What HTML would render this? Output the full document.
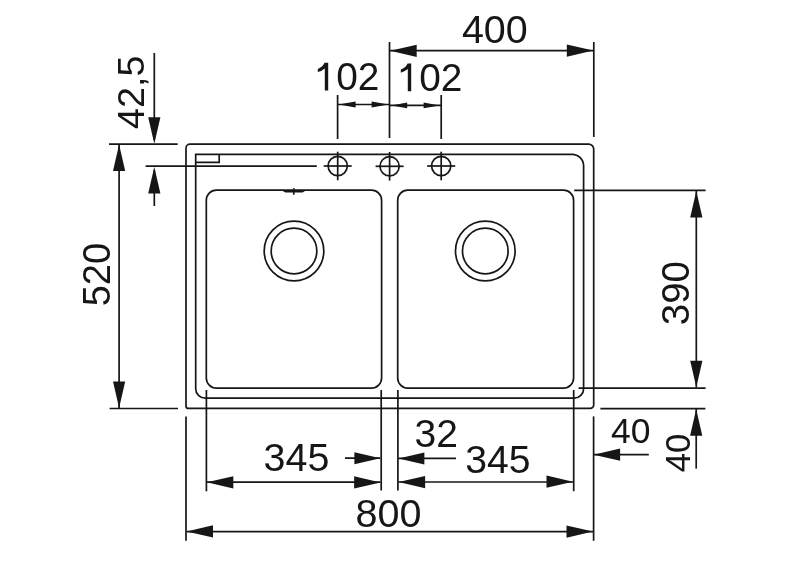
<!DOCTYPE html>
<html><head><meta charset="utf-8"><style>
html,body{margin:0;padding:0;background:#fff;}
svg{display:block;will-change:transform;}
text{font-family:"Liberation Sans",sans-serif;fill:#161616;}
</style></head><body>
<svg width="800" height="565" viewBox="0 0 800 565">
<rect width="800" height="565" fill="#fff"/>
<g fill="none" stroke="#161616" stroke-width="1.7" stroke-linecap="butt">
<path d="M190.0,144.1H588.7A5,5 0 0 1 593.7,149.1V404.9A3.5,3.5 0 0 1 590.2,408.4H188.5A2.5,2.5 0 0 1 186.0,405.9V148.1A4,4 0 0 1 190.0,144.1Z"/>
<path d="M195.7,154.3H572.1A11.5,11.5 0 0 1 583.6,165.8V388.7A9.5,9.5 0 0 1 574.1,398.2H205.2A9.5,9.5 0 0 1 195.7,388.7V154.3Z"/>
<path d="M195.7,162.3H219.2V154.3"/>
<path d="M216.3,190.2H371.6A10,10 0 0 1 381.6,200.2V378.1A10,10 0 0 1 371.6,388.1H216.3A10,10 0 0 1 206.3,378.1V200.2A10,10 0 0 1 216.3,190.2Z"/>
<path d="M407.7,190.2H563.6A10,10 0 0 1 573.6,200.2V378.1A10,10 0 0 1 563.6,388.1H407.7A10,10 0 0 1 397.7,378.1V200.2A10,10 0 0 1 407.7,190.2Z"/>
<circle cx="294.0" cy="251.0" r="29.8"/>
<circle cx="294.0" cy="251.0" r="22.8"/>
<circle cx="485.3" cy="251.0" r="29.8"/>
<circle cx="485.3" cy="251.0" r="22.8"/>
<circle cx="337.7" cy="166.0" r="9.6"/>
<line x1="323.70" y1="166.00" x2="351.70" y2="166.00"/>
<line x1="337.70" y1="151.70" x2="337.70" y2="180.30"/>
<circle cx="389.6" cy="166.3" r="9.6"/>
<line x1="375.60" y1="166.30" x2="403.60" y2="166.30"/>
<line x1="389.60" y1="152.00" x2="389.60" y2="180.60"/>
<circle cx="441.2" cy="166.0" r="9.6"/>
<line x1="427.20" y1="166.00" x2="455.20" y2="166.00"/>
<line x1="441.20" y1="151.70" x2="441.20" y2="180.30"/>
<path d="M281.8,190.6L285.5,192.6H302.5L305.8,190.6Z" fill="#161616" stroke="none"/>
<line x1="293.80" y1="188.20" x2="293.80" y2="194.70"/>
<line x1="389.50" y1="42.00" x2="389.50" y2="138.00"/>
<line x1="593.80" y1="42.00" x2="593.80" y2="137.00"/>
<line x1="390.00" y1="50.60" x2="593.00" y2="50.60"/>
<path d="M390.20,50.80L416.70,44.70L416.70,56.90Z" fill="#161616" stroke="none"/>
<path d="M593.30,50.60L566.80,56.70L566.80,44.50Z" fill="#161616" stroke="none"/>
<line x1="337.60" y1="95.00" x2="337.60" y2="139.00"/>
<line x1="441.20" y1="95.00" x2="441.20" y2="139.00"/>
<line x1="338.00" y1="104.50" x2="389.00" y2="104.50"/>
<path d="M338.60,104.50L355.60,101.60L355.60,107.40Z" fill="#161616" stroke="none"/>
<path d="M388.60,104.50L371.60,107.40L371.60,101.60Z" fill="#161616" stroke="none"/>
<line x1="390.00" y1="105.40" x2="441.00" y2="105.40"/>
<path d="M391.20,105.40L407.20,102.50L407.20,108.30Z" fill="#161616" stroke="none"/>
<path d="M439.60,105.40L423.60,108.30L423.60,102.50Z" fill="#161616" stroke="none"/>
<line x1="154.30" y1="53.00" x2="154.30" y2="140.00"/>
<line x1="154.30" y1="170.00" x2="154.30" y2="206.00"/>
<path d="M154.30,143.80L148.20,117.30L160.40,117.30Z" fill="#161616" stroke="none"/>
<path d="M154.30,167.00L160.40,193.50L148.20,193.50Z" fill="#161616" stroke="none"/>
<line x1="109.00" y1="144.20" x2="177.70" y2="144.20"/>
<line x1="145.60" y1="166.10" x2="316.80" y2="166.10"/>
<line x1="119.10" y1="144.50" x2="119.10" y2="408.30"/>
<path d="M119.10,144.60L125.20,171.10L113.00,171.10Z" fill="#161616" stroke="none"/>
<path d="M119.10,408.10L113.00,381.60L125.20,381.60Z" fill="#161616" stroke="none"/>
<line x1="109.60" y1="408.50" x2="178.00" y2="408.50"/>
<line x1="574.20" y1="190.30" x2="705.60" y2="190.30"/>
<line x1="578.60" y1="388.20" x2="705.60" y2="388.20"/>
<line x1="696.30" y1="191.00" x2="696.30" y2="387.50"/>
<path d="M696.30,191.00L702.40,217.50L690.20,217.50Z" fill="#161616" stroke="none"/>
<path d="M696.30,387.30L690.20,360.80L702.40,360.80Z" fill="#161616" stroke="none"/>
<line x1="600.40" y1="408.70" x2="705.40" y2="408.70"/>
<line x1="696.20" y1="409.00" x2="696.20" y2="468.60"/>
<path d="M696.20,409.20L702.30,435.70L690.10,435.70Z" fill="#161616" stroke="none"/>
<line x1="593.60" y1="416.40" x2="593.60" y2="540.80"/>
<line x1="186.00" y1="416.50" x2="186.00" y2="540.80"/>
<line x1="593.60" y1="454.70" x2="648.80" y2="454.70"/>
<path d="M593.60,454.70L620.10,448.60L620.10,460.80Z" fill="#161616" stroke="none"/>
<line x1="206.40" y1="390.00" x2="206.40" y2="491.30"/>
<line x1="381.20" y1="390.00" x2="381.20" y2="490.50"/>
<line x1="206.80" y1="482.20" x2="380.50" y2="482.20"/>
<path d="M206.80,482.30L233.30,476.20L233.30,488.40Z" fill="#161616" stroke="none"/>
<path d="M380.60,482.40L354.10,488.50L354.10,476.30Z" fill="#161616" stroke="none"/>
<line x1="397.90" y1="390.00" x2="397.90" y2="490.50"/>
<line x1="345.00" y1="458.20" x2="380.40" y2="458.20"/>
<path d="M380.40,458.20L354.40,464.20L354.40,452.20Z" fill="#161616" stroke="none"/>
<line x1="398.40" y1="458.40" x2="456.00" y2="458.40"/>
<path d="M398.40,458.40L424.40,452.40L424.40,464.40Z" fill="#161616" stroke="none"/>
<line x1="573.70" y1="390.00" x2="573.70" y2="491.20"/>
<line x1="398.50" y1="482.00" x2="573.00" y2="482.00"/>
<path d="M398.60,482.10L425.10,476.00L425.10,488.20Z" fill="#161616" stroke="none"/>
<path d="M573.00,481.70L546.50,487.80L546.50,475.60Z" fill="#161616" stroke="none"/>
<line x1="186.50" y1="531.60" x2="593.00" y2="531.60"/>
<path d="M186.50,531.40L213.00,525.30L213.00,537.50Z" fill="#161616" stroke="none"/>
<path d="M593.00,531.60L566.50,537.70L566.50,525.50Z" fill="#161616" stroke="none"/>
</g>
<g>
<text x="461.91" y="42.81" font-size="39.46">400</text>
<path transform="translate(0.00,0.00)" d="M328.2,62.8V90.5H324.8V68.4Q321.5,71.2 317.8,72.0V68.9Q322.5,67.2 324.6,62.8Z" fill="#161616"/>
<text x="336.20" y="90.11" font-size="38.87">02</text>
<path transform="translate(83.00,0.70)" d="M328.2,62.8V90.5H324.8V68.4Q321.5,71.2 317.8,72.0V68.9Q322.5,67.2 324.6,62.8Z" fill="#161616"/>
<text x="419.17" y="90.81" font-size="38.83">02</text>
<text x="263.52" y="471.21" font-size="39.46">345</text>
<text x="465.23" y="473.41" font-size="39.13">345</text>
<text x="414.59" y="447.01" font-size="39.03">32</text>
<text x="355.62" y="526.70" font-size="39.54">800</text>
<text x="611.01" y="443.45" font-size="35.47">40</text>
<text transform="translate(143.58,128.94) rotate(-90)" font-size="37.70">42,5</text>
<text transform="translate(110.18,306.32) rotate(-90)" font-size="38.05">520</text>
<text transform="translate(689.38,325.14) rotate(-90)" font-size="38.42">390</text>
<text transform="translate(690.05,472.37) rotate(-90)" font-size="34.67">40</text>
</g>
</svg>
</body></html>
